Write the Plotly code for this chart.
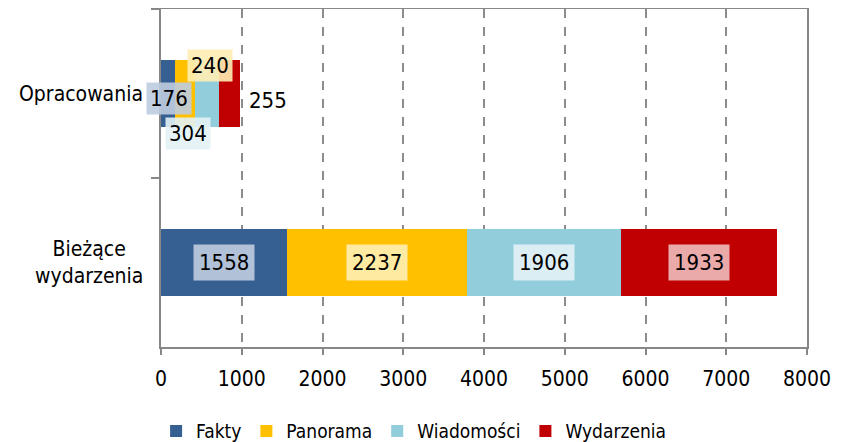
import plotly.graph_objects as go
import numpy as np

categories = ["Opracowania", "Bieżące wydarzenia"]
category_labels = ["Opracowania", "Bieżące<br>wydarzenia"]
series_names = ["Fakty", "Panorama", "Wiadomości", "Wydarzenia"]
fakty = [176, 1558]
panorama = [240, 2237]
wiadomosci = [304, 1906]
wydarzenia = [255, 1933]
x_ticks = [0, 1000, 2000, 3000, 4000, 5000, 6000, 7000, 8000]

colors = ["#376092", "#FFC000", "#92CDDC", "#C00000"]
label_bg = ["rgba(190,204,224,0.9)", "rgba(255,238,180,0.9)", "rgba(226,242,246,0.9)", "rgba(238,188,188,0.9)"]
FONT = "DejaVu Sans Condensed, Liberation Sans Narrow, DejaVu Sans, sans-serif"

series = [fakty, panorama, wiadomosci, wydarzenia]

fig = go.Figure()
for name, vals, col in zip(series_names, series, colors):
    fig.add_trace(go.Bar(
        y=categories, x=vals, name=name, orientation="h",
        marker=dict(color=col, line=dict(width=0)),
    ))

# data labels
cum = np.cumsum(np.array(series), axis=0)
starts = cum - np.array(series)
# offsets (px) for the small "Opracowania" bar labels, matching reference placement
small_offsets = [(1, -5), (25, 28), (-19, -40), (39, -7)]
for si, vals in enumerate(series):
    for ci, cat in enumerate(categories):
        mid = starts[si][ci] + vals[ci] / 2
        xs, ys = (0, 0)
        pad = 5
        if ci == 0:
            xs, ys = small_offsets[si]
            pad = 3
        fig.add_annotation(
            x=mid, y=cat, xref="x", yref="y", text=str(vals[ci]),
            showarrow=False, xshift=xs, yshift=ys,
            font=dict(family=FONT, size=22, color="#000000"),
            bgcolor=label_bg[si] if not (ci == 0 and si == 3) else "rgba(255,255,255,0)",
            borderpad=pad,
        )

# category labels
for cat, lab in zip(categories, category_labels):
    fig.add_annotation(
        x=0, y=cat, xref="paper", yref="y", text=lab, showarrow=False,
        xanchor="right", xshift=-16, align="center",
        font=dict(family=FONT, size=21, color="#000000"),
    )

fig.update_layout(
    barmode="stack",
    bargap=0.6,
    width=835, height=434,
    margin=dict(l=153, r=36, t=1, b=95, autoexpand=False),
    paper_bgcolor="white", plot_bgcolor="white",
    font=dict(family=FONT, size=21, color="#000000"),
    showlegend=True,
    legend=dict(
        orientation="h", x=0.391, xanchor="center",
        yref="container", y=0.025, yanchor="middle",
        font=dict(family=FONT, size=19, color="#000000"),
        traceorder="normal", itemwidth=30,
    ),
)
fig.update_xaxes(
    range=[0, 8000], tickvals=x_ticks, ticktext=[str(t) for t in x_ticks],
    showgrid=True, gridcolor="#8c8c8c", griddash="dash", gridwidth=1.5,
    zeroline=False, showline=True, linecolor="#878787", linewidth=2, mirror=True,
    ticks="outside", ticklen=6, tickcolor="#878787", tickwidth=2,
    ticklabelstandoff=6,
    tickfont=dict(family=FONT, size=21),
)
fig.update_yaxes(
    categoryorder="array", categoryarray=categories, autorange="reversed",
    showticklabels=False, showgrid=False, zeroline=False,
    showline=True, linecolor="#878787", linewidth=2, mirror=True,
    ticks="outside", tickson="boundaries", ticklen=8, tickcolor="#878787", tickwidth=2,
)

fig.write_html("out.html")
